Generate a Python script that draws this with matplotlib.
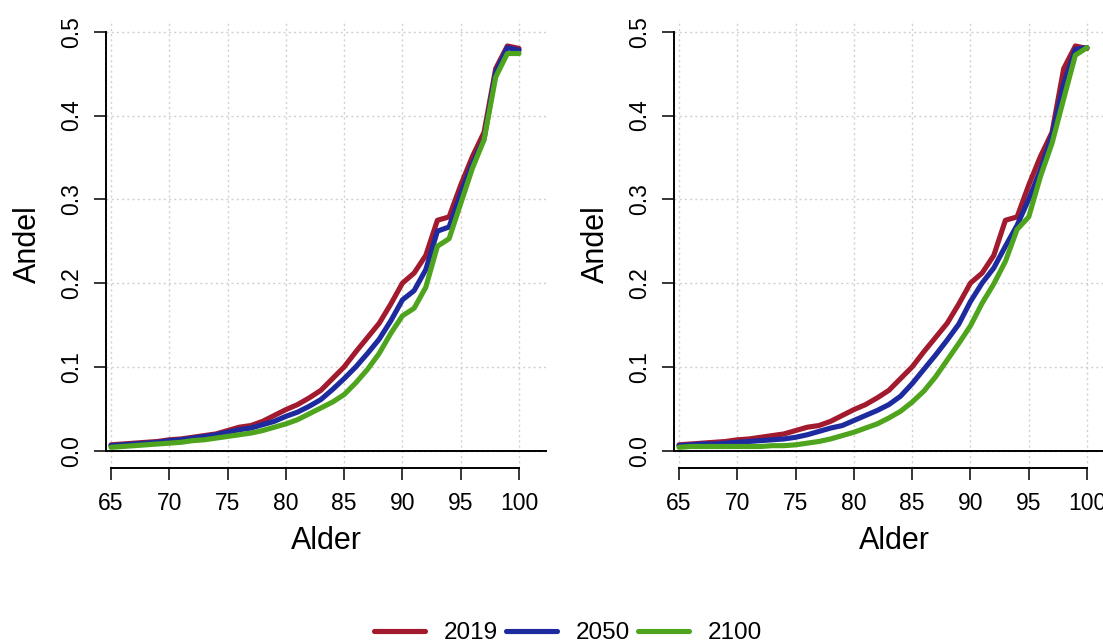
import matplotlib
matplotlib.use("Agg")
import matplotlib.pyplot as plt

plt.rcParams['font.family'] = ['Liberation Sans', 'DejaVu Sans']

# Data: andel per alder, 65-100
ages = list(range(65, 101))

red_2019 = [0.007, 0.008, 0.009, 0.010, 0.011, 0.013, 0.014, 0.016, 0.018, 0.020,
            0.024, 0.028, 0.030, 0.035, 0.042, 0.049, 0.055, 0.063, 0.072, 0.086,
            0.100, 0.118, 0.135, 0.152, 0.175, 0.200, 0.212, 0.233, 0.275, 0.279,
            0.317, 0.351, 0.380, 0.456, 0.483, 0.480]

left_2050 = [0.006, 0.007, 0.008, 0.009, 0.010, 0.012, 0.013, 0.015, 0.017, 0.019,
             0.022, 0.025, 0.027, 0.031, 0.035, 0.041, 0.046, 0.053, 0.061, 0.073,
             0.086, 0.100, 0.116, 0.133, 0.155, 0.180, 0.191, 0.216, 0.262, 0.267,
             0.307, 0.343, 0.372, 0.452, 0.481, 0.478]

left_2100 = [0.004, 0.005, 0.006, 0.007, 0.008, 0.009, 0.010, 0.012, 0.013, 0.015,
             0.017, 0.019, 0.021, 0.024, 0.028, 0.032, 0.037, 0.044, 0.051, 0.058,
             0.067, 0.081, 0.097, 0.116, 0.140, 0.161, 0.170, 0.195, 0.244, 0.253,
             0.295, 0.337, 0.371, 0.446, 0.474, 0.474]

right_2050 = [0.006, 0.007, 0.008, 0.008, 0.009, 0.010, 0.011, 0.012, 0.013, 0.014,
              0.016, 0.019, 0.023, 0.027, 0.030, 0.036, 0.042, 0.048, 0.055, 0.065,
              0.080, 0.097, 0.114, 0.132, 0.151, 0.178, 0.200, 0.218, 0.244, 0.269,
              0.300, 0.335, 0.377, 0.438, 0.479, 0.481]

right_2100 = [0.004, 0.005, 0.005, 0.005, 0.005, 0.005, 0.005, 0.005, 0.006, 0.006,
              0.007, 0.009, 0.011, 0.014, 0.018, 0.022, 0.027, 0.032, 0.039, 0.047,
              0.058, 0.071, 0.088, 0.108, 0.128, 0.149, 0.176, 0.199, 0.226, 0.264,
              0.279, 0.327, 0.367, 0.420, 0.472, 0.481]

years = ['2019', '2050', '2100']
colors = ['#A11A2E', '#1E2B9F', '#4EA41D']

xticks = [65, 70, 75, 80, 85, 90, 95, 100]
yticks = [0.0, 0.1, 0.2, 0.3, 0.4, 0.5]

fig = plt.figure(figsize=(11.03, 6.44), dpi=100)
W, H = 1103, 644

panels = [
    (106, [red_2019, left_2050, left_2100]),
    (674, [red_2019, right_2050, right_2100]),
]

for left_px, series in panels:
    ax = fig.add_axes([left_px / W, 1 - 467.7 / H, 441 / W, 447.7 / H])
    ax.set_xlim(64.57, 102.4)
    ax.set_ylim(-0.0203, 0.514)
    ax.set_xticks(xticks)
    ax.set_yticks(yticks)
    ax.set_yticklabels(['0.0', '0.1', '0.2', '0.3', '0.4', '0.5'],
                       rotation=90, va='center')
    ax.grid(color='#D0D0D0', linestyle=(0, (1.5, 2.25)), linewidth=1.0)
    ax.set_axisbelow(True)
    for s in ['top', 'right']:
        ax.spines[s].set_visible(False)
    ax.spines['left'].set_bounds(0, 0.5)
    ax.spines['bottom'].set_bounds(65, 100)
    ax.spines['left'].set_linewidth(1.4)
    ax.spines['bottom'].set_linewidth(1.4)
    ax.tick_params(length=8.6, width=1.1, labelsize=16.5)
    ax.tick_params(axis='y', pad=8)
    ax.tick_params(axis='x', pad=9)
    ax.axhline(0, color='black', linewidth=1.4, zorder=1.5)

    for vals, c, lab in zip(series, colors, years):
        ax.plot(ages, vals, color=c, linewidth=3.7, label=lab,
                solid_capstyle='round', solid_joinstyle='round', zorder=3)

    ax.set_xlabel('Alder', fontsize=22, va='center')
    ax.xaxis.set_label_coords(0.5, -0.164)
    ax.set_ylabel('Andel', fontsize=22, va='center')
    ax.yaxis.set_label_coords(-0.177, 0.5)

handles, labels = ax.get_legend_handles_labels()
fig.legend(handles, labels, loc='center', bbox_to_anchor=(0.515, 1 - 633 / H),
           ncol=3, frameon=False, fontsize=17.5, handlelength=2.1,
           handletextpad=0.78, columnspacing=0.33, borderpad=0)

fig.savefig('out.png', dpi=100)
